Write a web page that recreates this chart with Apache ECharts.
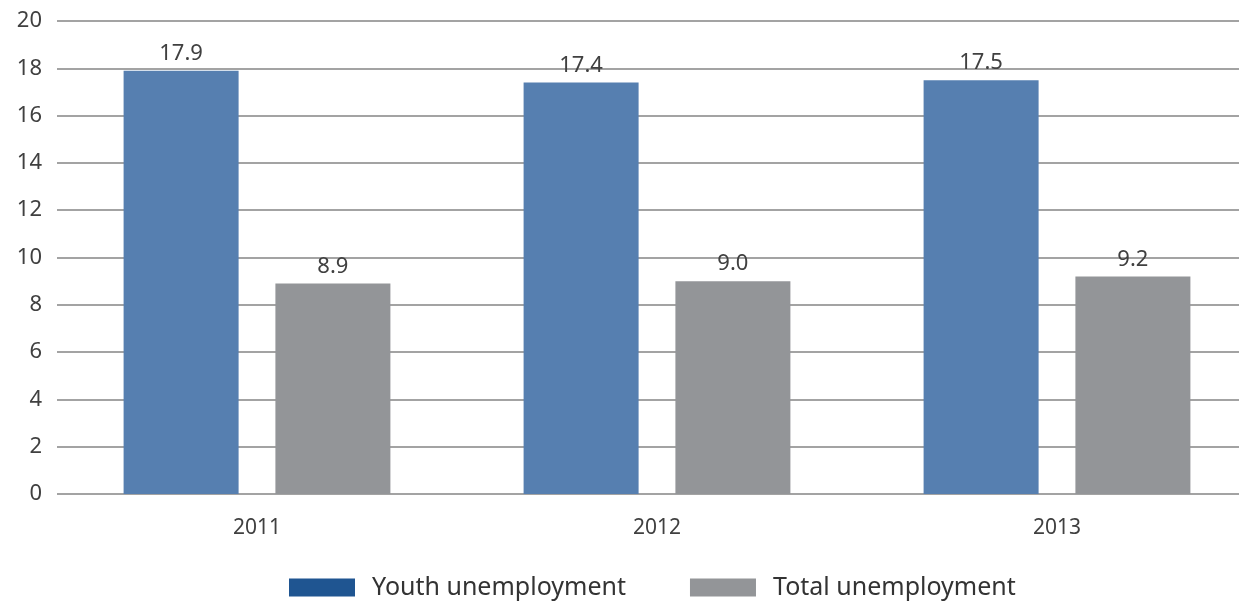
<!DOCTYPE html>
<html>
<head>
  <meta charset="utf-8">
  <title>Youth and total unemployment</title>
  <script src="https://cdn.jsdelivr.net/npm/echarts@6.0.0/dist/echarts.min.js"></script>
  <style>
    body { margin: 0; background: #fff; overflow: hidden; }
    /* plot runs past the right edge of the window, as in the original */
    #chart { width: 1257px; height: 602px; }
  </style>
</head>
<body>
  <div id="chart"></div>
  <script>
    const years = ['2011', '2012', '2013'];
    const youth = [17.9, 17.4, 17.5];
    const total = [8.9, 9.0, 9.2];

    const font = "'Noto Sans', sans-serif";
    const chart = echarts.init(document.getElementById('chart'));

    const dataLabel = {
      show: true,
      position: 'top',
      distance: 6,
      fontFamily: font,
      fontSize: 22,
      color: '#404040',
      formatter: p => p.value.toFixed(1)
    };

    chart.setOption({
      animation: false,
      grid: { left: 57, right: 0, top: 21, bottom: 108 },
      legend: {
        bottom: 2,
        left: 289,
        padding: 0,
        itemWidth: 66,
        itemHeight: 18,
        itemGap: 64,
        icon: 'rect',
        textStyle: { fontFamily: font, fontSize: 25, color: '#333', padding: [0, 0, 0, 12] },
        data: [
          { name: 'Youth unemployment', itemStyle: { color: '#1f5591' } },
          { name: 'Total unemployment', itemStyle: { color: '#939598' } }
        ]
      },
      xAxis: {
        type: 'category',
        data: years,
        axisLine: { show: false },
        axisTick: { show: false },
        axisLabel: { fontFamily: font, fontSize: 21, color: '#404040', margin: 24 }
      },
      yAxis: {
        type: 'value',
        min: 0,
        max: 20,
        interval: 2,
        axisLabel: { fontFamily: font, fontSize: 22, color: '#404040', margin: 15 },
        splitLine: { lineStyle: { color: '#858585', width: 1.5 } }
      },
      series: [
        {
          name: 'Youth unemployment',
          type: 'bar',
          data: youth,
          barWidth: 115,
          barGap: '32%',
          itemStyle: { color: '#567fb0' },
          label: dataLabel
        },
        {
          name: 'Total unemployment',
          type: 'bar',
          data: total,
          barWidth: 115,
          itemStyle: { color: '#939598' },
          label: dataLabel
        }
      ]
    });
  </script>
</body>
</html>
